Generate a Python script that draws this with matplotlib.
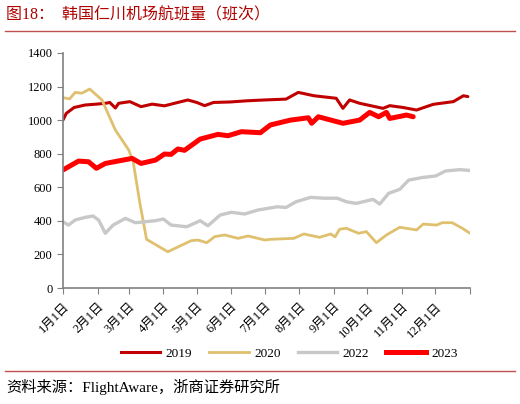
import matplotlib
matplotlib.use("Agg")
import matplotlib.pyplot as plt
from matplotlib.lines import Line2D

plt.rcParams['font.family'] = ['Liberation Serif', 'Noto Sans CJK SC']

# day of year (0 = 1月1日) and flights
days_2019 = [0, 3, 10, 20, 30, 38, 42, 47, 50, 60, 70, 80, 91, 100, 112, 120, 127, 135, 150, 165, 181, 200, 211,
             225, 245, 251, 257, 266, 287, 293, 305, 317, 332, 350, 359, 363]
vals_2019 = [1000, 1040, 1075, 1090, 1095, 1100, 1105, 1072, 1100, 1110, 1080, 1095, 1085, 1100, 1120, 1105,
             1086, 1105, 1108, 1115, 1120, 1125, 1165, 1145, 1130, 1070, 1120, 1100, 1070, 1086, 1075, 1060,
             1094, 1110, 1145, 1140]

days_2020 = [0, 6, 11, 17, 24, 35, 47, 59, 63, 69, 75, 94, 115, 121, 129, 136, 145, 157, 166, 181, 186, 207,
             216, 230, 240, 244, 248, 254, 265, 272, 281, 290, 302, 317, 323, 335, 340, 349, 358, 365]
vals_2020 = [1134, 1126, 1165, 1160, 1185, 1120, 941, 822, 752, 505, 290, 216, 282, 286, 270, 306, 316, 296,
             310, 286, 290, 296, 322, 302, 322, 305, 350, 356, 326, 336, 270, 316, 362, 346, 381, 375, 389,
             389, 356, 326]

days_2022 = [0, 5, 11, 20, 27, 32, 38, 45, 56, 65, 83, 90, 97, 111, 123, 130, 141, 151, 163, 175, 187, 192,
             200, 209, 222, 234, 246, 254, 263, 278, 284, 292, 302, 310, 323, 334, 343, 356, 365]
vals_2022 = [395, 375, 405, 421, 429, 405, 326, 375, 415, 389, 401, 411, 375, 365, 401, 371, 435, 451, 441,
             465, 478, 484, 480, 514, 540, 535, 535, 514, 504, 528, 500, 564, 588, 643, 659, 667, 697, 705, 700]

days_2023 = [0, 14, 23, 30, 38, 62, 70, 83, 91, 97, 103, 109, 123, 139, 148, 160, 177, 186, 204, 220, 223,
             229, 251, 266, 275, 283, 290, 293, 308, 314]
vals_2023 = [703, 756, 752, 713, 742, 772, 742, 762, 798, 796, 828, 820, 887, 915, 907, 931, 925, 971, 1000,
             1014, 981, 1020, 981, 1000, 1046, 1020, 1046, 1010, 1030, 1020]

month_starts = [0, 31, 59, 90, 120, 151, 181, 212, 243, 273, 304, 334, 365]
month_labels = [f"{m}月1日" for m in range(1, 13)] + [""]

series = [
    ("2019", days_2019, vals_2019, "#C00000", 2.2),
    ("2020", days_2020, vals_2020, "#DFC06E", 2.0),
    ("2022", days_2022, vals_2022, "#C8C8C8", 2.4),
    ("2023", days_2023, vals_2023, "#FF0000", 3.6),
]

fig = plt.figure(figsize=(5.2, 4.04), dpi=100)
ax = fig.add_axes([0.121, 0.287, 0.783, 0.582])

for name, d, v, color, lw in series:
    ax.plot(d, v, color=color, lw=lw, label=name, solid_capstyle='round')

ax.set_xlim(0, 365)
ax.set_ylim(0, 1400)
ax.set_yticks(range(0, 1401, 200))
ax.set_xticks(month_starts)
ax.set_xticklabels(month_labels, rotation=45, ha='right', va='top', rotation_mode='anchor')
ax.tick_params(axis='both', direction='out', length=4, color='#808080', labelsize=9)
ax.tick_params(axis='x', pad=5)
for side in ['top', 'right']:
    ax.spines[side].set_visible(False)
for side in ['left', 'bottom']:
    ax.spines[side].set_color('#808080')
    ax.spines[side].set_linewidth(1.2)

handles = [Line2D([], [], color=c, lw=lw) for _, _, _, c, lw in series]
fig.legend(handles, [s[0] for s in series], loc='center', bbox_to_anchor=(0.556, 0.124), ncol=4,
           frameon=False, fontsize=9.5, handlelength=3.0, columnspacing=1.3, handletextpad=0.4)

# title, rules and source
fig.text(0.012, 0.962, "图18：  韩国仁川机场航班量（班次）", color='#B00000', fontsize=11.5,
         ha='left', va='center')
fig.add_artist(Line2D([0.01, 0.99], [0.923, 0.923], color='#C0504D', lw=1.0))
fig.add_artist(Line2D([0.01, 0.99], [0.082, 0.082], color='#C0504D', lw=1.0))
fig.text(0.012, 0.043, "资料来源：FlightAware，浙商证券研究所", color='black', fontsize=11,
         ha='left', va='center')

fig.savefig("out.png", dpi=100)
